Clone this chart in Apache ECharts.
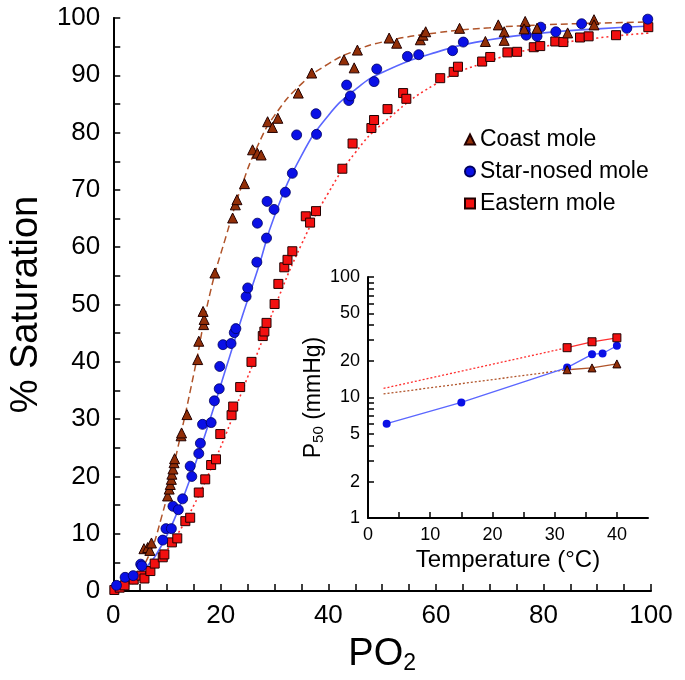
<!DOCTYPE html>
<html>
<head>
<meta charset="utf-8">
<script src="https://cdn.jsdelivr.net/npm/echarts@6/dist/echarts.min.js"></script>
<style>html,body{margin:0;padding:0;background:#fff}#c{width:685px;height:680px}</style>
</head>
<body>
<div id="c"></div>
<script>
// ---- main panel data: PO2 (x) and % saturation (y) ----
const coastPO2 = [5.7,6.4,6.8,7.1,10.1,10.4,10.6,10.8,10.9,11.1,11.3,11.4,12.6,12.7,13.7,15.7,15.9,16.8,16.9,16.7,18.9,22.2,22.7,23.0,24.4,25.9,26.8,27.5,28.7,29.6,30.6,34.4,36.9,42.9,44.8,45.4,51.3,52.7,57.1,57.6,58.1,64.4,69.2,71.6,72.7,72.7,76.6,76.4,78.8,84.5,89.4,89.4];
const coastSat = [7.4,7.6,7.1,8.4,16.6,17.8,18.6,19.5,20.4,21.3,22.4,23.1,27.1,27.6,30.8,40.4,43.6,46.5,47.4,48.8,55.5,65.1,67.4,68.3,71.1,77.0,76.4,76.1,81.9,80.9,82.5,86.9,90.4,92.7,91.3,94.4,96.5,95.6,96.2,97.0,97.6,98.2,95.9,98.8,97.6,96.1,99.4,98.1,98.2,97.4,99.7,98.8];

const starPO2 = [0.6,2.2,3.7,5.1,5.3,9.2,9.8,10.8,11.1,12.1,12.9,14.3,14.6,15.9,16.2,16.6,18.2,18.8,19.7,19.8,20.4,21.9,22.5,22.8,24.7,25.0,26.7,28.5,26.8,28.6,29.9,32.0,33.3,34.1,37.8,37.7,43.4,43.8,44.1,48.5,49.0,54.7,56.8,63.1,65.1,76.6,76.8,78.8,79.5,82.3,87.1,95.5,99.4];
const starSat = [1.0,2.4,2.7,4.7,4.4,8.9,10.9,10.9,14.8,14.2,16.1,21.8,20.0,24.0,25.8,29.1,29.4,33.2,35.3,39.2,43.0,43.2,45.1,45.8,51.4,52.9,57.4,61.6,64.2,68.0,66.6,69.6,72.9,79.6,79.7,83.3,88.3,85.6,86.4,88.9,91.1,93.3,93.6,94.3,95.8,97.9,97.0,96.8,98.4,97.6,99.0,98.2,99.8];

const easternPO2 = [0.2,1.2,2.1,3.8,5.2,5.8,6.9,7.7,9.2,9.5,10.9,11.9,13.4,14.3,15.9,17.1,18.2,19.1,19.9,22.0,22.3,23.6,25.7,27.8,28.1,28.5,30.0,30.7,31.8,32.4,33.3,35.8,36.6,37.7,42.6,44.5,48.0,48.5,51.0,53.9,54.5,60.8,63.3,64.1,68.6,70.1,73.3,75.1,78.2,79.4,82.2,83.7,86.8,88.4,93.5,99.5];
const easternSat = [0.2,0.6,1.0,2.0,2.7,2.2,3.5,4.8,5.9,6.4,8.5,9.2,12.2,12.8,17.2,19.5,22.0,23.0,27.4,30.7,32.2,35.6,40.0,44.5,45.3,46.8,50.1,53.6,56.5,57.8,59.3,65.4,64.3,66.3,73.7,78.1,80.8,82.2,84.1,86.9,85.9,89.5,90.6,91.5,92.4,93.2,94.0,94.1,94.9,95.1,95.9,95.8,96.6,96.8,97.0,98.4];

// fitted curves
const curvePO2 = [0,3,6,9,12,15,18,21,24,27,30,35,40,45,50,60,70,80,90,100];
const coastCurve = [0,1.5,5,13,25,38,52,62,71,78,83,88.5,92,94.3,95.8,97.4,98.3,98.8,99.1,99.3];
const starCurve = [0,1.5,4,8,14,21.5,30,39,48,56.5,65.5,76,83,87.5,90.5,94,96.2,97.4,98.1,98.6];
const easternCurve = [0,1,3,6,10,15,21,27.5,35,42,49.5,60.5,69.5,76.5,81.5,88.5,92.5,95,96.5,97.4];

// ---- inset data: temperature (x) vs P50 (log y) ----
const starTemp = [3,15,32,36,37.7,40];
const starP50 = [6.06,9.1,17.7,22.8,23.2,26.9];
const easternTemp = [32,36,40];
const easternP50 = [25.9,29.0,31.3];
const coastTemp = [32,36,40];
const coastP50 = [17.0,17.6,19.0];
const easternExtTemp = [2.5,32];
const easternExtP50 = [11.9,25.9];
const coastExtTemp = [2.5,32];
const coastExtP50 = [10.7,17.0];

const mainXLabels = [0,20,40,60,80,100];
const mainYLabels = [0,10,20,30,40,50,60,70,80,90,100];
const insetXLabels = [0,10,20,30,40];
const insetYLabels = [1,2,5,10,20,50,100];
const insetYTicks = [1,2,3,4,5,6,7,8,9,10,20,30,40,50,60,70,80,90,100];

const zip = (a,b) => a.map((v,i)=>[v,b[i]]);
const FONT = '"Liberation Sans", Arial, Helvetica, sans-serif';

const C_COAST = '#922f08', C_STAR = '#0a10e6', C_EAST = '#f21010';
const L_COAST = '#b0542a', L_STAR = '#5a66ff', L_EAST = '#ff3030';

const axisCommon = {
  axisLine: {show:true, onZero:false, lineStyle:{color:'#000', width:2}},
  axisTick: {show:true, inside:true, lineStyle:{color:'#000', width:1.5}},
  splitLine: {show:false},
};

const chart = echarts.init(document.getElementById('c'), null, {renderer:'canvas'});
chart.setOption({
  animation: false,
  backgroundColor: '#fff',
  textStyle: {fontFamily: FONT, color:'#000'},
  grid: [
    {left:110, top:18, width:541, height:574, containLabel:false},
    {left:368, top:277, width:280, height:241, containLabel:false}
  ],
  legend: {
    orient:'vertical', left:459, top:123, itemGap:9,
    itemWidth:10, itemHeight:10,
    textStyle:{fontSize:23, color:'#000', fontFamily:FONT},
    data:[
      {name:'Coast mole', icon:'triangle'},
      {name:'Star-nosed mole', icon:'circle'},
      {name:'Eastern mole', icon:'rect'}
    ]
  },
  xAxis: [
    Object.assign({}, axisCommon, {
      type:'value', gridIndex:0, min:0, max:100, interval:5,
      axisTick:{show:true, inside:true, length:7, lineStyle:{color:'#000', width:1.5}},
      axisLabel:{fontSize:26, color:'#000', margin:12, fontFamily:FONT,
        formatter: v => mainXLabels.includes(v) ? String(v) : ''},
      name:'{a|PO}{b|2}', nameLocation:'middle', nameGap:40,
      nameTextStyle:{rich:{a:{fontSize:38, fontFamily:FONT, color:'#000', lineHeight:40},
                            b:{fontSize:23, fontFamily:FONT, color:'#000', padding:[18,0,0,0], lineHeight:40}}}
    }),
    Object.assign({}, axisCommon, {
      type:'value', gridIndex:1, min:0, max:45, interval:5,
      axisTick:{show:true, inside:true, length:6, lineStyle:{color:'#000', width:1.5}},
      axisLabel:{fontSize:18, color:'#000', margin:8, fontFamily:FONT, showMaxLabel:false,
        formatter: v => insetXLabels.includes(v) ? String(v) : ''},
      name:'Temperature (°C)', nameLocation:'middle', nameGap:30,
      nameTextStyle:{fontSize:24, fontFamily:FONT, color:'#000'}
    })
  ],
  yAxis: [
    Object.assign({}, axisCommon, {
      type:'value', gridIndex:0, min:0, max:100, interval:5,
      axisTick:{show:true, inside:true, length:7, lineStyle:{color:'#000', width:1.5}},
      axisLabel:{fontSize:26, color:'#000', margin:13, fontFamily:FONT,
        formatter: v => mainYLabels.includes(v) ? String(v) : ''},
      name:'% Saturation', nameLocation:'middle', nameGap:60, nameRotate:90,
      nameTextStyle:{fontSize:38, fontFamily:FONT, color:'#000'}
    }),
    Object.assign({}, axisCommon, {
      type:'log', logBase:10, gridIndex:1, min:1, max:100,
      axisTick:{show:true, inside:true, length:6, customValues:insetYTicks, lineStyle:{color:'#000', width:1.5}},
      axisLabel:{fontSize:18, color:'#000', margin:8, fontFamily:FONT, customValues:insetYLabels},
      name:'{a|P}{b|50}{a| (mmHg)}', nameLocation:'middle', nameGap:40, nameRotate:90,
      nameTextStyle:{rich:{a:{fontSize:23, fontFamily:FONT, color:'#000', lineHeight:25},
                            b:{fontSize:15, fontFamily:FONT, color:'#000', padding:[10,0,0,0], lineHeight:25}}}
    })
  ],
  series: [
    // fitted curves
    {type:'line', name:'coastFit', xAxisIndex:0, yAxisIndex:0, data:zip(curvePO2, coastCurve), smooth:true, showSymbol:false, symbol:'none',
      lineStyle:{color:L_COAST, width:1.5, type:[7,4]}, z:2},
    {type:'line', name:'starFit', xAxisIndex:0, yAxisIndex:0, data:zip(curvePO2, starCurve), smooth:true, showSymbol:false, symbol:'none',
      lineStyle:{color:L_STAR, width:1.6, type:'solid'}, z:2},
    {type:'line', name:'eastFit', xAxisIndex:0, yAxisIndex:0, data:zip(curvePO2, easternCurve), smooth:true, showSymbol:false, symbol:'none',
      lineStyle:{color:L_EAST, width:1.6, type:[2,3]}, z:2},
    // scatter points
    {type:'scatter', name:'Eastern mole', xAxisIndex:0, yAxisIndex:0, data:zip(easternPO2, easternSat), symbol:'rect', symbolSize:9,
      itemStyle:{color:C_EAST, borderColor:'#200', borderWidth:1, opacity:1}, z:3},
    {type:'scatter', name:'Star-nosed mole', xAxisIndex:0, yAxisIndex:0, data:zip(starPO2, starSat), symbol:'circle', symbolSize:10,
      itemStyle:{color:C_STAR, borderColor:'#000060', borderWidth:0.8, opacity:1}, z:4},
    {type:'scatter', name:'Coast mole', xAxisIndex:0, yAxisIndex:0, data:zip(coastPO2, coastSat), symbol:'triangle', symbolSize:10,
      itemStyle:{color:C_COAST, borderColor:'#200', borderWidth:1, opacity:1}, z:5},
    // inset
    {type:'line', name:'eastExt', xAxisIndex:1, yAxisIndex:1, data:zip(easternExtTemp, easternExtP50), showSymbol:false, symbol:'none',
      lineStyle:{color:L_EAST, width:1.3, type:[2,2]}},
    {type:'line', name:'coastExt', xAxisIndex:1, yAxisIndex:1, data:zip(coastExtTemp, coastExtP50), showSymbol:false, symbol:'none',
      lineStyle:{color:L_COAST, width:1.3, type:[2,2]}},
    {type:'line', name:'starInset', xAxisIndex:1, yAxisIndex:1, data:zip(starTemp, starP50), symbol:'circle', symbolSize:8, showSymbol:true,
      lineStyle:{color:L_STAR, width:1.3}, itemStyle:{color:C_STAR, borderWidth:0}},
    {type:'line', name:'eastInset', xAxisIndex:1, yAxisIndex:1, data:zip(easternTemp, easternP50), symbol:'rect', symbolSize:8, showSymbol:true,
      lineStyle:{color:L_EAST, width:1.3}, itemStyle:{color:C_EAST, borderColor:'#200', borderWidth:1}},
    {type:'line', name:'coastInset', xAxisIndex:1, yAxisIndex:1, data:zip(coastTemp, coastP50), symbol:'triangle', symbolSize:8, showSymbol:true,
      lineStyle:{color:L_COAST, width:1.3}, itemStyle:{color:C_COAST, borderColor:'#200', borderWidth:1}}
  ]
});
</script>
</body>
</html>
